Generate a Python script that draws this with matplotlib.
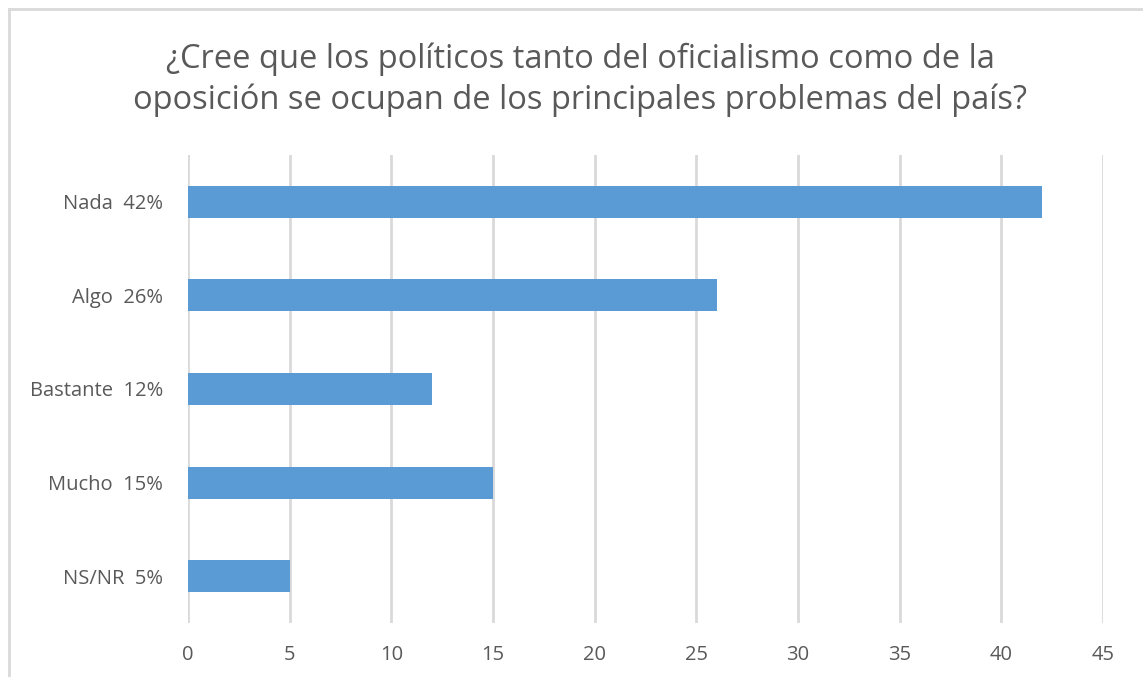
import matplotlib.pyplot as plt
from matplotlib.lines import Line2D

plt.rcParams['font.family'] = ['Open Sans', 'DejaVu Sans']

# Data
categories = ['Nada  42%', 'Algo  26%', 'Bastante  12%', 'Mucho  15%', 'NS/NR  5%']
values = [42, 26, 12, 15, 5]
x_ticks = [0, 5, 10, 15, 20, 25, 30, 35, 40, 45]
title = ('¿Cree que los políticos tanto del oficialismo como de la\n'
         'oposición se ocupan de los principales problemas del país?')

W, H = 1143, 677
fig = plt.figure(figsize=(W / 100, H / 100), dpi=100)
ax = fig.add_axes([188 / W, 1 - 623 / H, (1103 - 188) / W, (623 - 155) / H])

ypos = list(range(len(categories)))
ax.barh(ypos, values, height=0.34, color='#5B9BD5', zorder=3)

ax.set_xlim(0, 45)
ax.set_ylim(len(categories) - 0.5, -0.5)
ax.set_yticks(ypos)
ax.set_yticklabels(categories)
ax.set_xticks(x_ticks)

ax.grid(axis='x', color='#D9D9D9', linewidth=2, zorder=0)
ax.grid(axis='y', visible=False)
for s in ax.spines.values():
    s.set_visible(False)
ax.tick_params(axis='both', length=0, labelsize=14.5, colors='#595959')
ax.tick_params(axis='x', pad=16)
ax.tick_params(axis='y', pad=18)

fig.text(580 / W, 1 - 80 / H, title, ha='center', va='center',
         fontsize=23.5, color='#595959', linespacing=1.3)

# chart area border (left and top visible in the crop)
fig.add_artist(Line2D([9 / W, 9 / W], [0, 1 - 9 / H], transform=fig.transFigure,
                      color='#D9D9D9', linewidth=2))
fig.add_artist(Line2D([9 / W, 1], [1 - 9 / H, 1 - 9 / H], transform=fig.transFigure,
                      color='#D9D9D9', linewidth=2))

fig.savefig('out.png', dpi=100, facecolor='white')
